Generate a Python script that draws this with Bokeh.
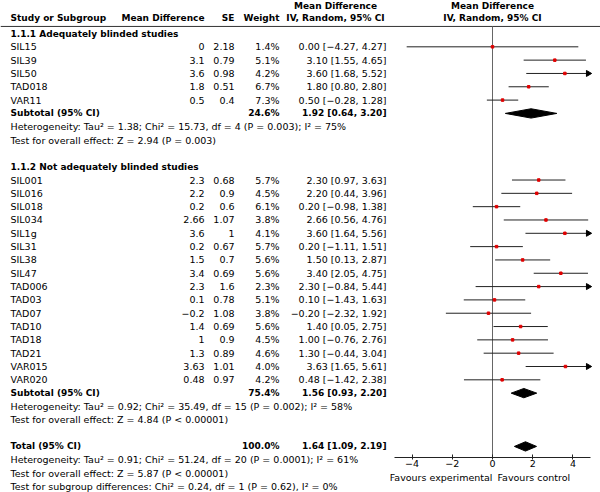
import numpy as np
from bokeh.plotting import figure
from bokeh.models import Range1d, LinearAxis, FixedTicker
from bokeh.core.properties import value
from bokeh.embed import file_html
from bokeh.resources import INLINE

# ---------------- data ----------------
group_titles = ["1.1.1 Adequately blinded studies", "1.1.2 Not adequately blinded studies"]

studies_a = ["SIL15", "SIL39", "SIL50", "TAD018", "VAR11"]
md_a = [0, 3.1, 3.6, 1.8, 0.5]
se_a = [2.18, 0.79, 0.98, 0.51, 0.4]
weight_a = [1.4, 5.1, 4.2, 6.7, 7.3]
lo_a = [-4.27, 1.55, 1.68, 0.80, -0.28]
hi_a = [4.27, 4.65, 5.52, 2.80, 1.28]

studies_b = ["SIL001", "SIL016", "SIL018", "SIL034", "SIL1g", "SIL31", "SIL38", "SIL47",
             "TAD006", "TAD03", "TAD07", "TAD10", "TAD18", "TAD21", "VAR015", "VAR020"]
md_b = [2.3, 2.2, 0.2, 2.66, 3.6, 0.2, 1.5, 3.4, 2.3, 0.1, -0.2, 1.4, 1, 1.3, 3.63, 0.48]
se_b = [0.68, 0.9, 0.6, 1.07, 1, 0.67, 0.7, 0.69, 1.6, 0.78, 1.08, 0.69, 0.9, 0.89, 1.01, 0.97]
weight_b = [5.7, 4.5, 6.1, 3.8, 4.1, 5.7, 5.6, 5.6, 2.3, 5.1, 3.8, 5.6, 4.5, 4.6, 4.0, 4.2]
lo_b = [0.97, 0.44, -0.98, 0.56, 1.64, -1.11, 0.13, 2.05, -0.84, -1.43, -2.32, 0.05, -0.76, -0.44, 1.65, -1.42]
hi_b = [3.63, 3.96, 1.38, 4.76, 5.56, 1.51, 2.87, 4.75, 5.44, 1.63, 1.92, 2.75, 2.76, 3.04, 5.61, 2.38]

pooled_labels = ["Subtotal (95% CI)", "Subtotal (95% CI)", "Total (95% CI)"]
pooled_weight = [24.6, 75.4, 100.0]
pooled_md = [1.92, 1.56, 1.64]
pooled_lo = [0.64, 0.93, 1.09]
pooled_hi = [3.20, 2.20, 2.19]

heterogeneity = [
    "Heterogeneity: Tau\u00b2 = 1.38; Chi\u00b2 = 15.73, df = 4 (P = 0.003); I\u00b2 = 75%",
    "Heterogeneity: Tau\u00b2 = 0.92; Chi\u00b2 = 35.49, df = 15 (P = 0.002); I\u00b2 = 58%",
    "Heterogeneity: Tau\u00b2 = 0.91; Chi\u00b2 = 51.24, df = 20 (P = 0.0001); I\u00b2 = 61%",
]
overall_effect = [
    "Test for overall effect: Z = 2.94 (P = 0.003)",
    "Test for overall effect: Z = 4.84 (P < 0.00001)",
    "Test for overall effect: Z = 5.87 (P < 0.00001)",
]
subgroup_test = "Test for subgroup differences: Chi\u00b2 = 0.24, df = 1 (P = 0.62), I\u00b2 = 0%"

col_headers = ["Study or Subgroup", "Mean Difference", "SE", "Weight"]
ci_header = ["Mean Difference", "IV, Random, 95% CI"]
axis_ticks = [-4, -2, 0, 2, 4]
favours = ["Favours experimental", "Favours control"]

# ---------------- layout ----------------
W, H = 600, 492
FONT = value("DejaVu Sans")
FS = "9.5px"
FSB = "9px"
PX_PER_UNIT = 20.1
ZERO_X = 492
AXIS_LIM = 4.88
ROW0_Y, ROW_STEP = 33.0, 13.32

NAME_X, MD_X, SE_X, W_X, CI_X, HDR_CI_X = 10, 204, 234, 279, 386, 335
HDR1, HDR2, RULE_Y, AXIS_Y, FAV_Y = -2.03, -1.13, -0.53, 31.83, 33.3

rows_a = list(range(1, 6))
rows_b = list(range(11, 27))
group_rows = [0, 10]
pooled_rows = [6, 27, 31]
het_rows = [7, 28, 32]
test_rows = [8, 29, 33]
subgroup_row = 34


def fmt(v):
    return f"{v:g}".replace("-", "\u2212")


def fmt_ci(m, lo, hi):
    return f"{m:.2f} [{lo:.2f}, {hi:.2f}]".replace("-", "\u2212")


p = figure(width=W, height=H,
           x_range=Range1d(-ZERO_X / PX_PER_UNIT, (W - ZERO_X) / PX_PER_UNIT),
           y_range=Range1d((H - ROW0_Y) / ROW_STEP, -ROW0_Y / ROW_STEP),
           output_backend="svg", toolbar_location=None,
           x_axis_location=None, y_axis_location=None,
           min_border=0, min_border_left=0, min_border_right=0,
           min_border_top=0, min_border_bottom=0,
           outline_line_color=None, background_fill_color="white")
p.extra_x_ranges = {"px": Range1d(0, W)}
p.grid.visible = False


def txt(xs, ys, texts, align="left", bold=False, rng="px", size=None):
    kw = dict(x=xs, y=ys, text=texts, text_font=FONT,
              text_font_size=size or (FSB if bold else FS),
              text_font_style="bold" if bold else "normal",
              text_align=align, text_baseline="middle", text_color="black")
    if rng:
        kw["x_range_name"] = rng
    p.text(**kw)


# header
txt([NAME_X], [HDR2], [col_headers[0]], bold=True)
txt([MD_X, SE_X, W_X], [HDR2] * 3, col_headers[1:], align="right", bold=True)
txt([HDR_CI_X, HDR_CI_X], [HDR1, HDR2], ci_header, align="center", bold=True)
txt([0, 0], [HDR1, HDR2], ci_header, align="center", bold=True, rng=None)
p.segment(x0=[0], y0=[RULE_Y], x1=[W], y1=[RULE_Y], x_range_name="px",
          line_color="#333333", line_width=1)

# group titles
txt([NAME_X] * 2, group_rows, group_titles, bold=True)

# study rows
studies = studies_a + studies_b
rows = rows_a + rows_b
md = md_a + md_b
se = se_a + se_b
wt = weight_a + weight_b
lo = lo_a + lo_b
hi = hi_a + hi_b

txt([NAME_X] * len(rows), rows, studies)
txt([MD_X] * len(rows), rows, [fmt(v) for v in md], align="right")
txt([SE_X] * len(rows), rows, [fmt(v) for v in se], align="right")
txt([W_X] * len(rows), rows, [f"{v:.1f}%" for v in wt], align="right")
txt([CI_X] * len(rows), rows, [fmt_ci(m, a, b) for m, a, b in zip(md, lo, hi)], align="right")

# pooled rows
txt([NAME_X] * 3, pooled_rows, pooled_labels, bold=True)
txt([W_X] * 3, pooled_rows, [f"{v:.1f}%" for v in pooled_weight], align="right", bold=True)
txt([CI_X] * 3, pooled_rows, [fmt_ci(m, a, b) for m, a, b in zip(pooled_md, pooled_lo, pooled_hi)],
    align="right", bold=True)
txt([NAME_X] * 3, het_rows, heterogeneity)
txt([NAME_X] * 3, test_rows, overall_effect)
txt([NAME_X], [subgroup_row], [subgroup_test])

# forest plot
p.segment(x0=[0], y0=[RULE_Y], x1=[0], y1=[AXIS_Y], line_color="#666666", line_width=1)
lo_c = np.clip(lo, -AXIS_LIM, AXIS_LIM)
hi_c = np.clip(hi, -AXIS_LIM, AXIS_LIM)
p.segment(x0=lo_c, y0=rows, x1=hi_c, y1=rows, line_color="#222222", line_width=1)
p.scatter(x=md, y=rows, marker="square", size=2.5, fill_color="#e00000", line_color="#e00000")
arrow_rows = [r for r, h in zip(rows, hi) if h > AXIS_LIM]
p.scatter(x=[AXIS_LIM - 0.12] * len(arrow_rows), y=arrow_rows, marker="triangle",
          angle=-np.pi / 2, size=6, fill_color="black", line_color="black")

HALF = 0.35
p.patches(xs=[[a, m, b, m] for m, a, b in zip(pooled_md, pooled_lo, pooled_hi)],
          ys=[[r, r - HALF, r, r + HALF] for r in pooled_rows],
          fill_color="black", line_color="black")

ax = LinearAxis(fixed_location=AXIS_Y, bounds=(-AXIS_LIM, AXIS_LIM),
                ticker=FixedTicker(ticks=axis_ticks),
                major_label_overrides={t: fmt(t) for t in axis_ticks})
ax.axis_line_color = "#222222"
ax.major_tick_line_color = "#222222"
ax.major_tick_in = 3
ax.major_tick_out = 2
ax.minor_tick_line_color = None
ax.major_label_standoff = 1
ax.major_label_text_font = "DejaVu Sans"
ax.major_label_text_font_size = FS
ax.major_label_text_color = "black"
p.add_layout(ax, "below")

txt([0], [FAV_Y], [favours[0]], align="right", rng=None, size="9.5px")
txt([0.25], [FAV_Y], [favours[1]], align="left", rng=None, size="9.5px")

open("out.html", "w").write(file_html(p, INLINE))
